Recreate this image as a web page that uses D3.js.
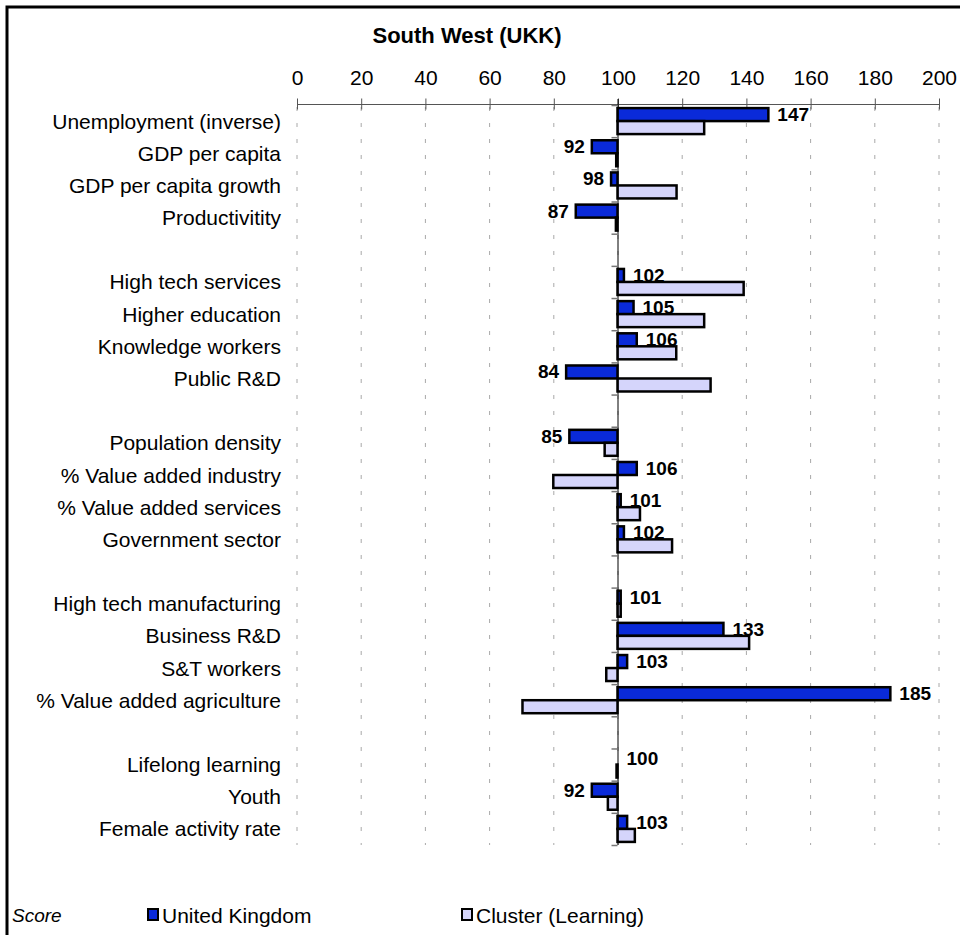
<!DOCTYPE html>
<html>
<head>
<meta charset="utf-8">
<script src="https://cdn.jsdelivr.net/npm/d3@7"></script>
<style>
  html, body { margin: 0; padding: 0; background: #fff; }
  svg { display: block; font-family: "Liberation Sans", Arial, sans-serif; }
</style>
</head>
<body>
<svg id="chart" width="960" height="935"></svg>
<script>
// Indicator rows, top to bottom; empty strings are spacer rows between groups
const rows = [
  "Unemployment (inverse)", "GDP per capita", "GDP per capita growth", "Productivitity", "",
  "High tech services", "Higher education", "Knowledge workers", "Public R&D", "",
  "Population density", "% Value added industry", "% Value added services", "Government sector", "",
  "High tech manufacturing", "Business R&D", "S&T workers", "% Value added agriculture", "",
  "Lifelong learning", "Youth", "Female activity rate"
];

// Scores relative to the UK (=100), null on spacer rows
const ukValues = [
  147, 92, 98, 87, null,
  102, 105, 106, 84, null,
  85, 106, 101, 102, null,
  101, 133, 103, 185, null,
  100, 92, 103
];
const clusterValues = [
  127, 99.6, 118.4, 99.5, null,
  139.3, 127, 118.3, 129, null,
  96, 80, 107, 117, null,
  101, 141, 96.5, 70.4, null,
  99.7, 97, 105.4
];

const tickValues = [0, 20, 40, 60, 80, 100, 120, 140, 160, 180, 200];
const seriesNames = ["United Kingdom", "Cluster (Learning)"];
const seriesColors = ["#0a2ad9", "#d5d5fb"];
const title = "South West (UKK)";

const svg = d3.select("#chart");

// outer frame (top and left edges visible)
svg.append("path")
  .attr("d", "M7,935 L7,7 L960,7")
  .attr("fill", "none")
  .attr("stroke", "#000")
  .attr("stroke-width", 3);

const x = d3.scaleLinear().domain([0, 200]).range([296.5, 938.5]);
const y = d3.scaleBand().domain(d3.range(rows.length)).range([105, 845]);
const bw = y.bandwidth();
const barH = 13;
const barOff = (bw - 2 * barH) / 2;

// title
svg.append("text")
  .attr("x", 467).attr("y", 35)
  .attr("text-anchor", "middle").attr("dominant-baseline", "central")
  .attr("font-size", 22).attr("font-weight", "bold")
  .text(title);

// dashed vertical gridlines
svg.append("g").selectAll("line")
  .data(tickValues)
  .join("line")
  .attr("x1", d => x(d) + 0.5).attr("x2", d => x(d) + 0.5)
  .attr("y1", 107).attr("y2", 845)
  .attr("stroke", "#a8a8a8")
  .attr("stroke-width", 1)
  .attr("stroke-dasharray", "4,12");

// value axis on top
const axisG = svg.append("g")
  .attr("transform", "translate(0.5,104.5)")
  .call(d3.axisTop(x).tickValues(tickValues).tickSize(5).tickPadding(15).tickFormat(d3.format("d")));
axisG.select(".domain").attr("stroke", "#555").attr("d", `M${x(0)},0H${x(200)}`);
axisG.selectAll(".tick line").attr("stroke", "#555").attr("y1", 5).attr("y2", -6);
axisG.selectAll(".tick text")
  .attr("font-size", 21)
  .attr("font-family", "Liberation Sans, Arial, sans-serif")
  .attr("fill", "#000");

// category labels
svg.append("g").selectAll("text")
  .data(rows)
  .join("text")
  .attr("x", 281)
  .attr("y", (d, i) => y(i) + bw / 2)
  .attr("text-anchor", "end")
  .attr("dominant-baseline", "central")
  .attr("font-size", 21)
  .text(d => d);

// bars: both series start from the reference value 100
const base = x(100);
const barData = [];
rows.forEach((r, i) => {
  if (ukValues[i] != null) barData.push({ i, v: ukValues[i], s: 0 });
  if (clusterValues[i] != null) barData.push({ i, v: clusterValues[i], s: 1 });
});

svg.append("g").selectAll("rect")
  .data(barData)
  .join("rect")
  .attr("x", d => Math.min(base, x(d.v)))
  .attr("y", d => y(d.i) + barOff + d.s * barH)
  .attr("width", d => Math.abs(x(d.v) - base))
  .attr("height", barH)
  .attr("fill", d => seriesColors[d.s])
  .attr("stroke", "#000")
  .attr("stroke-width", 2.5);

// category axis at 100 with small ticks at row boundaries
svg.append("line")
  .attr("x1", base + 0.5).attr("x2", base + 0.5)
  .attr("y1", 99).attr("y2", 845)
  .attr("stroke", "#000").attr("stroke-width", 1);
svg.append("g").selectAll("line")
  .data(d3.range(rows.length + 1))
  .join("line")
  .attr("x1", base - 6).attr("x2", base)
  .attr("y1", i => (i < rows.length ? y(i) : 845) + 0.5)
  .attr("y2", i => (i < rows.length ? y(i) : 845) + 0.5)
  .attr("stroke", "#777").attr("stroke-width", 1.5);

// value labels for the UK series
svg.append("g").selectAll("text")
  .data(barData.filter(d => d.s === 0))
  .join("text")
  .attr("x", d => d.v >= 100 ? x(d.v) + 9 : x(d.v) - 7)
  .attr("y", d => y(d.i) + barOff + barH / 2)
  .attr("text-anchor", d => d.v >= 100 ? "start" : "end")
  .attr("dominant-baseline", "central")
  .attr("font-size", 19)
  .attr("font-weight", "bold")
  .text(d => d3.format("d")(d.v));

// legend
const legend = svg.append("g");
legend.append("text")
  .attr("x", 12).attr("y", 915)
  .attr("dominant-baseline", "central")
  .attr("font-size", 19).attr("font-style", "italic")
  .text("Score");
const legendX = [148, 462];
seriesNames.forEach((name, k) => {
  legend.append("rect")
    .attr("x", legendX[k]).attr("y", 909)
    .attr("width", 10).attr("height", 11)
    .attr("fill", seriesColors[k])
    .attr("stroke", "#000").attr("stroke-width", 2);
  legend.append("text")
    .attr("x", legendX[k] + 14).attr("y", 915)
    .attr("dominant-baseline", "central")
    .attr("font-size", 21)
    .text(name);
});
</script>
</body>
</html>
